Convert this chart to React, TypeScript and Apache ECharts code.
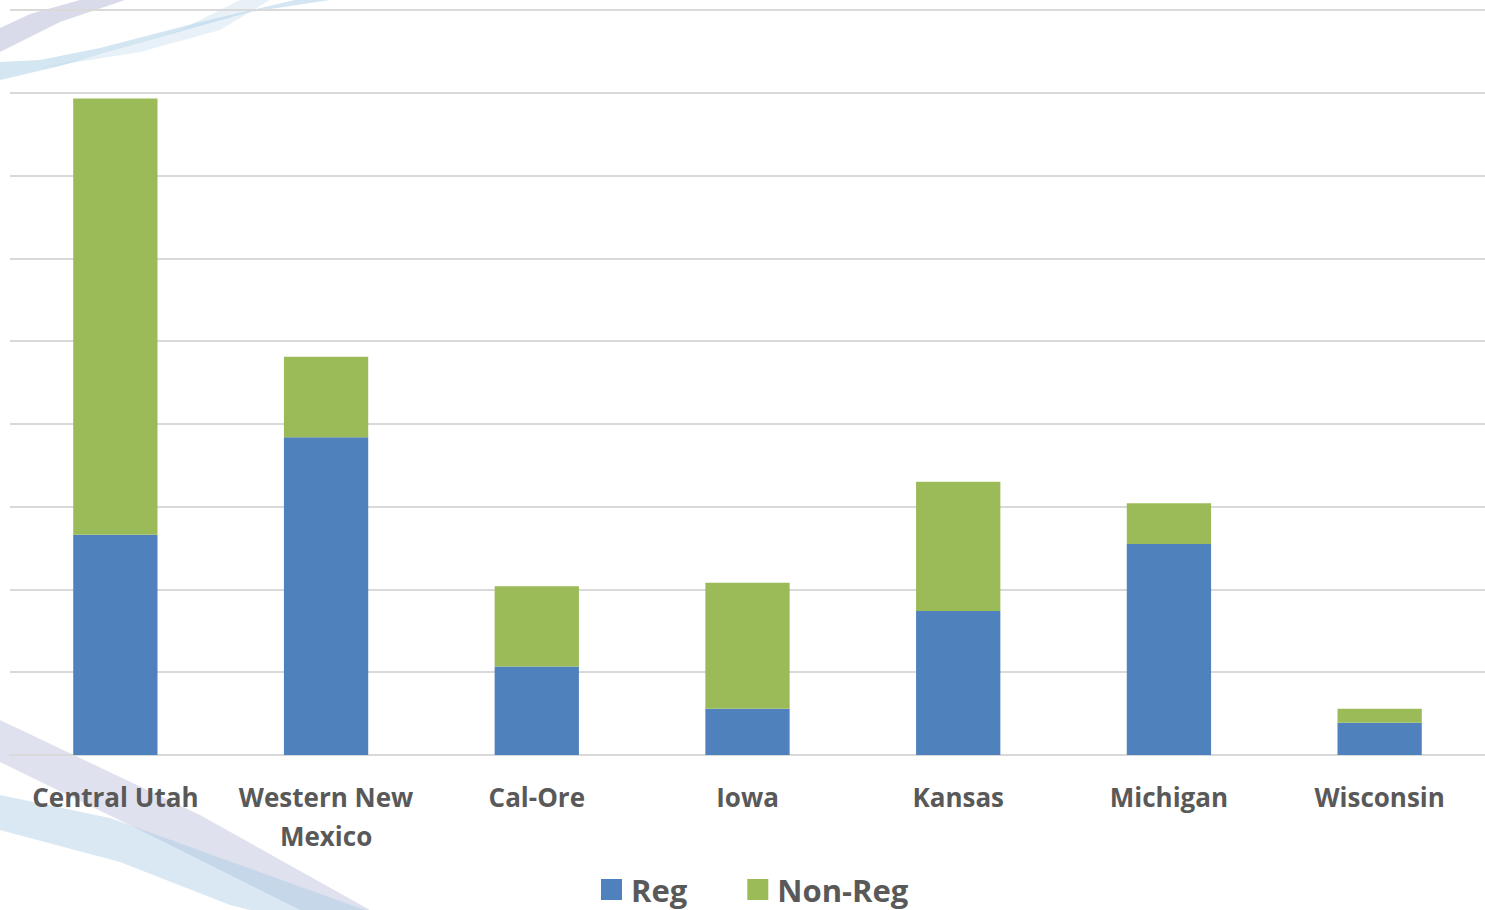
import React, { useEffect, useRef } from "react";
import * as echarts from "echarts";

const categories = ["Central Utah", "Western New\nMexico", "Cal-Ore", "Iowa", "Kansas", "Michigan", "Wisconsin"];
const regValues = [2.66, 3.84, 1.07, 0.56, 1.74, 2.55, 0.39];
const nonRegValues = [5.27, 0.97, 0.97, 1.52, 1.56, 0.49, 0.17];
const seriesNames = ["Reg", "Non-Reg"];

export default function App() {
  const ref = useRef<HTMLDivElement>(null);
  useEffect(() => {
    if (!ref.current) return;
    const chart = echarts.init(ref.current, null, { renderer: "svg" });
    const font = "'Open Sans', 'Noto Sans', sans-serif";
    chart.setOption({
      animation: false,
      backgroundColor: "#ffffff",
      graphic: [
        { type: "polygon", z: -10, silent: true, shape: { points: [[0, 28], [0, 52], [60, 22], [125, 0], [80, 0], [30, 14]] }, style: { fill: "rgba(170,175,210,0.45)" } },
        { type: "polygon", z: -10, silent: true, shape: { points: [[0, 62], [0, 80], [60, 66], [150, 40], [250, 12], [330, 0], [295, 0], [200, 22], [100, 48], [40, 60]] }, style: { fill: "rgba(170,205,230,0.5)" } },
        { type: "polygon", z: -10, silent: true, shape: { points: [[40, 68], [140, 52], [220, 30], [270, 0], [240, 0], [180, 30], [100, 55]] }, style: { fill: "rgba(190,215,235,0.35)" } },
        { type: "polygon", z: -10, silent: true, shape: { points: [[0, 720], [0, 762], [150, 835], [300, 910], [370, 910], [200, 815]] }, style: { fill: "rgba(175,180,212,0.4)" } },
        { type: "polygon", z: -10, silent: true, shape: { points: [[0, 795], [0, 830], [120, 862], [230, 905], [250, 910], [365, 910], [240, 865], [110, 818]] }, style: { fill: "rgba(170,205,228,0.45)" } },
      ],
      grid: { left: 10, right: 0, top: 10, bottom: 155, containLabel: false },
      legend: {
        bottom: 0,
        left: 596,
        itemWidth: 21,
        itemHeight: 21,
        itemGap: 60,
        icon: "rect",
        textStyle: { fontFamily: font, fontSize: 31, fontWeight: 700, color: "#595959", padding: [0, 0, 0, 4] },
        data: seriesNames,
      },
      xAxis: {
        type: "category",
        data: categories,
        axisLine: { lineStyle: { color: "#d9d9d9", width: 2 } },
        axisTick: { show: false },
        axisLabel: { fontFamily: font, fontSize: 26, fontWeight: 700, color: "#595959", margin: 22, lineHeight: 39, interval: 0 },
      },
      yAxis: {
        type: "value",
        min: 0,
        max: 9,
        interval: 1,
        axisLabel: { show: false },
        axisLine: { show: false },
        axisTick: { show: false },
        splitLine: { lineStyle: { color: "#d9d9d9", width: 2 } },
      },
      series: [
        { name: seriesNames[0], type: "bar", stack: "t", data: regValues, barWidth: "40%", itemStyle: { color: "#4f81bd" } },
        { name: seriesNames[1], type: "bar", stack: "t", data: nonRegValues, barWidth: "40%", itemStyle: { color: "#9bbb59" } },
      ],
    });
    return () => chart.dispose();
  }, []);
  return <div ref={ref} style={{ position: "fixed", left: 0, top: 0, width: 1485, height: 910 }} />;
}
